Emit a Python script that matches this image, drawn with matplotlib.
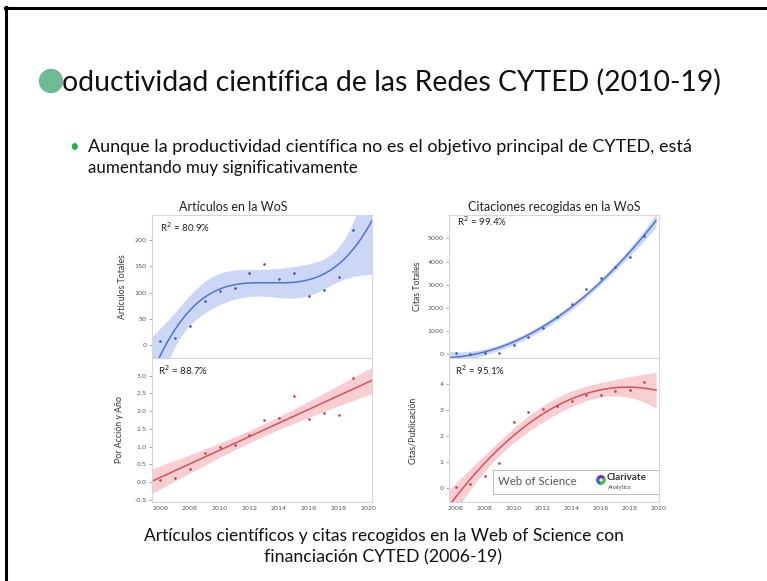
import numpy as np
import matplotlib
matplotlib.use("Agg")
import matplotlib.pyplot as plt
from matplotlib.patches import Ellipse, Rectangle, Wedge

# ---------------- data ----------------
years = [2006, 2007, 2008, 2009, 2010, 2011, 2012, 2013, 2014, 2015, 2016, 2017, 2018, 2019]
articulos = [8, 14, 37, 83, 103, 109, 138, 155, 126, 138, 93, 105, 130, 220]
citas = [10, 0, 20, 45, 390, 740, 1120, 1575, 2170, 2785, 3280, 3747, 4215, 5116]
por_accion = [0.07, 0.12, 0.38, 0.81, 1.00, 1.06, 1.34, 1.76, 1.80, 2.42, 1.79, 1.94, 1.89, 2.94]
citas_pub = [0.01, 0.14, 0.46, 0.96, 2.52, 2.93, 3.05, 3.16, 3.33, 3.58, 3.58, 3.71, 3.77, 4.09]

r2_labels = ["R$^2$ = 80.9%", "R$^2$ = 99.4%", "R$^2$ = 88.7%", "R$^2$ = 95.1%"]
panel_titles = ["Artículos en la WoS", "Citaciones recogidas en la WoS"]
ylabels = ["Artículos Totales", "Citas Totales", "Por Acción y Año", "Citas/Publicación"]
xticks_years = [2006, 2008, 2010, 2012, 2014, 2016, 2018, 2020]
yt_art = [0, 50, 100, 150, 200]
yt_cit = [0, 1000, 2000, 3000, 4000, 5000]
yt_acc = [-0.5, 0.0, 0.5, 1.0, 1.5, 2.0, 2.5, 3.0]
yt_pub = [0, 1, 2, 3, 4]

slide_title = "oductividad científica de las Redes CYTED (2010-19)"
bullet1 = "Aunque la productividad científica no es el objetivo principal de CYTED, está"
bullet2 = "aumentando muy significativamente"
caption1 = "Artículos científicos y citas recogidos en la Web of Science con"
caption2 = "financiación CYTED (2006-19)"

# ---------------- helpers ----------------
W, H = 767, 581
fig = plt.figure(figsize=(W / 100, H / 100), dpi=100)
fig.patch.set_facecolor("white")
FONT = ["Lato", "DejaVu Sans"]


def X(px):
    return px / W


def Y(py):
    return 1 - py / H


def polyfit_ci(x, y, order, xs, t):
    x = np.asarray(x, float) - 2012
    y = np.asarray(y, float)
    xs = np.asarray(xs, float) - 2012
    A = np.vander(x, order + 1)
    beta, *_ = np.linalg.lstsq(A, y, rcond=None)
    resid = y - A @ beta
    dof = len(x) - (order + 1)
    s2 = resid @ resid / dof
    cov = s2 * np.linalg.inv(A.T @ A)
    As = np.vander(xs, order + 1)
    yhat = As @ beta
    se = np.sqrt(np.sum((As @ cov) * As, axis=1))
    return yhat, yhat - t * se, yhat + t * se


renderer = fig.canvas.get_renderer()


def fit_width(txt, target_px):
    bb = txt.get_window_extent(renderer)
    txt.set_fontsize(txt.get_fontsize() * target_px / bb.width)


# ---------------- slide frame ----------------
fig.add_artist(plt.Line2D([X(6), X(6)], [Y(7), 0], transform=fig.transFigure,
                          color="black", lw=2.2))
fig.add_artist(plt.Line2D([X(5), 1], [Y(8), Y(8)], transform=fig.transFigure,
                          color="black", lw=2.2))

# title with green circle
fig.add_artist(Ellipse((X(51), Y(81)), 23 / W, 23 / H, transform=fig.transFigure,
                       color="#6dba94", zorder=5))
t = fig.text(X(62), Y(82), slide_title, ha="left", va="center", fontsize=18,
             family=FONT, color="#111111")
fit_width(t, 656)

fig.text(X(74), Y(147), "•", ha="center", va="center", fontsize=12,
         color="#22b04b", family=FONT)
t = fig.text(X(88), Y(147), bullet1, ha="left", va="center", fontsize=11,
             family=FONT, color="#111111")
fit_width(t, 602)
t = fig.text(X(88), Y(168), bullet2, ha="left", va="center", fontsize=11,
             family=FONT, color="#111111")
fit_width(t, 269)

t = fig.text(X(384), Y(536), caption1, ha="center", va="center", fontsize=11,
             family=FONT, color="#111111")
fit_width(t, 476)
t = fig.text(X(383), Y(557), caption2, ha="center", va="center", fontsize=11,
             family=FONT, color="#111111")
fit_width(t, 238)

# ---------------- panels ----------------
blue_line, blue_band, blue_pt = "#4f72d6", "#c3d0f4", "#3a57b8"
red_line, red_band, red_pt = "#d9505c", "#f6c6cb", "#b8404a"

ax_tl = fig.add_axes([X(152), Y(358), 220 / W, 143 / H])
ax_tr = fig.add_axes([X(449), Y(358), 210 / W, 143 / H])
ax_bl = fig.add_axes([X(152), Y(502), 220 / W, 144 / H])
ax_br = fig.add_axes([X(449), Y(502), 210 / W, 144 / H])

specs = [
    (ax_tl, articulos, 3, 2.228, (2005.45, 2020.25), (-25, 248), yt_art, blue_line, blue_band, blue_pt),
    (ax_tr, citas, 2, 2.201, (2005.55, 2019.8), (-190, 6020), yt_cit, blue_line, blue_band, blue_pt),
    (ax_bl, por_accion, 1, 2.179, (2005.45, 2020.25), (-0.56, 3.5), yt_acc, red_line, red_band, red_pt),
    (ax_br, citas_pub, 2, 2.201, (2005.55, 2019.8), (-0.55, 5.0), yt_pub, red_line, red_band, red_pt),
]

for i, (ax, vals, order, tval, xl, yl, yt, lc, bc, pc) in enumerate(specs):
    xs = np.linspace(xl[0], xl[1], 300)
    yhat, lo, hi = polyfit_ci(years, vals, order, xs, tval)
    ax.fill_between(xs, lo, hi, color=bc, alpha=0.85, lw=0, zorder=1)
    ax.plot(xs, yhat, color=lc, lw=1.1, zorder=2)
    ax.scatter(years, vals, s=3.5, color=pc, zorder=3, lw=0)
    ax.set_xlim(*xl)
    ax.set_ylim(*yl)
    ax.set_yticks(yt)
    if ax is ax_bl:
        ax.set_yticklabels([f"{v:.1f}" for v in yt])
    ax.set_xticks(xticks_years)
    for sp in ax.spines.values():
        sp.set_color("#d6d6d6")
        sp.set_linewidth(0.8)
    ax.tick_params(axis="both", labelsize=4.6, colors="#999999", labelcolor="#555555",
                   length=2.5, width=0.6, pad=1.5)
    ax.set_ylabel(ylabels[i], fontsize=6.3, color="#333333", family=FONT, labelpad=4)
    if i < 2:
        ax.tick_params(axis="x", labelbottom=False, length=0)
    else:
        ax.tick_params(axis="x", length=0, pad=3)
    ax.set_facecolor("white")

ax_tl.set_title(panel_titles[0], fontsize=9, color="#222222", family=FONT, pad=3,
                x=0.37)
ax_tr.set_title(panel_titles[1], fontsize=9, color="#222222", family=FONT, pad=3)

ax_tl.text(0.036, 0.915, r2_labels[0], transform=ax_tl.transAxes, fontsize=7,
           va="center", ha="left", color="#222222", family=FONT)
ax_tr.text(0.037, 0.955, r2_labels[1], transform=ax_tr.transAxes, fontsize=7,
           va="center", ha="left", color="#222222", family=FONT)
ax_bl.text(0.025, 0.915, r2_labels[2], transform=ax_bl.transAxes, fontsize=7,
           va="center", ha="left", color="#222222", family=FONT)
ax_br.text(0.03, 0.915, r2_labels[3], transform=ax_br.transAxes, fontsize=7,
           va="center", ha="left", color="#222222", family=FONT)

ax_tl.yaxis.set_label_coords(-0.115, 0.5)
ax_tr.yaxis.set_label_coords(-0.13, 0.5)
ax_bl.yaxis.set_label_coords(-0.125, 0.5)
ax_br.yaxis.set_label_coords(-0.15, 0.5)

# Web of Science / Clarivate box
ax_br.add_patch(Rectangle((0.21, 0.056), 0.85, 0.166, transform=ax_br.transAxes,
                          facecolor="white", edgecolor="#bbbbbb", lw=0.7, zorder=6,
                          clip_on=True))
ax_br.text(0.232, 0.139, "Web of Science", transform=ax_br.transAxes, fontsize=8.2,
           color="#555555", va="center", ha="left", family=FONT, zorder=7)
for th1, th2, col in [(30, 150, "#7b2f9e"), (150, 270, "#2b6fd6"), (270, 390, "#5cbf3a")]:
    fig.add_artist(Wedge((601, H - 480), 4.2, th1, th2, width=1.9, color=col,
                         transform=None, zorder=8))
ax_br.text((607 - 449) / 210, (502 - 478) / 144, "Clarivate", transform=ax_br.transAxes,
           fontsize=7.2, fontweight="bold", color="#333333", va="center", ha="left",
           family=FONT, zorder=8)
ax_br.text((608 - 449) / 210, (502 - 487.5) / 144, "Analytics", transform=ax_br.transAxes,
           fontsize=4.2, color="#444444", va="center", ha="left", family=FONT, zorder=8)

fig.savefig("out.png", dpi=100, facecolor="white")
